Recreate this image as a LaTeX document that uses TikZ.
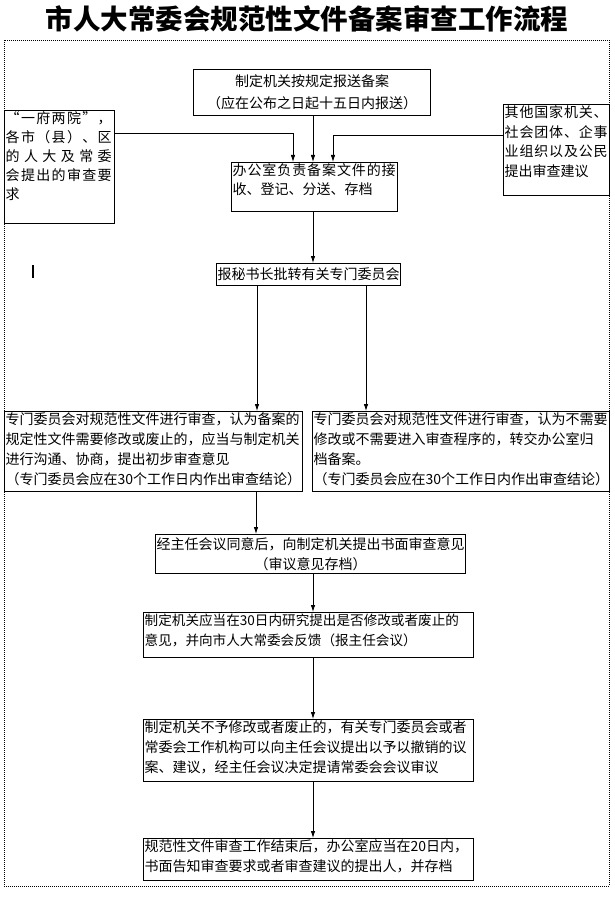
\documentclass[tikz,border=0pt]{standalone}
\usepackage{fontspec}
\setmainfont{Noto Sans CJK SC}
\usetikzlibrary{arrows.meta}
\newcommand{\spr}[2]{\hbox to #1{#2}}
\begin{document}
\begin{tikzpicture}[x=1pt,y=-1pt,
  box/.style={draw=black,line width=1pt,inner sep=0pt,anchor=north west},
  txt/.style={anchor=north west,inner sep=1.5pt,align=left,font=\fontsize{14}{20}\selectfont},
  ctxt/.style={align=center,inner sep=0pt,font=\fontsize{14}{20}\selectfont},
  arr/.style={line width=0.8pt,-{Latex[length=7pt,width=4.5pt]}},
  frame/.style={line width=0.8pt,dash pattern=on 0.8pt off 1.2pt}]
\useasboundingbox (0,0) rectangle (614,901);
\fill[white] (0,0) rectangle (614,901);
\node[font=\fontsize{27.5}{30}\selectfont\bfseries] (title) at (307,19) {市人大常委会规范性文件备案审查工作流程};
\draw[frame] (4,40) rectangle (609,886);
% boxes
\node[box,minimum width=237pt,minimum height=46pt] (tbox) at (193,69) {};
\node[box,minimum width=110pt,minimum height=113pt] (lbox) at (4,110) {};
\node[box,minimum width=106pt,minimum height=91pt] (rbox) at (503,104) {};
\node[box,minimum width=166pt,minimum height=49pt] (office) at (231,162) {};
\node[box,minimum width=184pt,minimum height=22pt] (baomi) at (216,263) {};
\node[box,minimum width=298pt,minimum height=80pt] (revL) at (4,411) {};
\node[box,minimum width=297pt,minimum height=80pt] (revR) at (312,411) {};
\node[box,minimum width=310pt,minimum height=39pt] (jing) at (155,534) {};
\node[box,minimum width=330pt,minimum height=45pt] (zhiding) at (143,612) {};
\node[box,minimum width=330pt,minimum height=62pt] (buyu) at (143,719) {};
\node[box,minimum width=330pt,minimum height=42pt] (guifan) at (143,838) {};
% texts
\node[ctxt,font=\fontsize{14}{22}\selectfont] (tT) at (tbox.center) {制定机关按规定报送备案\\（应在公布之日起十五日内报送）};
\node[txt,font=\fontsize{14}{19}\selectfont] (lT) at (lbox.north west) {%
\spr{106pt}{“\hfill 一\hfill 府\hfill 两\hfill 院\hfill ”\hfill ，}\\
\spr{106pt}{各\hfill 市\hfill （\hfill 县\hfill ）\hfill 、\hfill 区}\\
\spr{106pt}{的\hfill 人\hfill 大\hfill 及\hfill 常\hfill 委}\\
\spr{106pt}{会\hfill 提\hfill 出\hfill 的\hfill 审\hfill 查\hfill 要}\\
求};
\node[txt,font=\fontsize{14}{19.5}\selectfont] (rT) at (rbox.north west) {%
\spr{103pt}{其\hfill 他\hfill 国\hfill 家\hfill 机\hfill 关\hfill 、}\\
\spr{103pt}{社\hfill 会\hfill 团\hfill 体\hfill 、\hfill 企\hfill 事}\\
\spr{103pt}{业\hfill 组\hfill 织\hfill 以\hfill 及\hfill 公\hfill 民}\\
提出审查建议};
\node[txt,font=\fontsize{14}{19}\selectfont] (oT) at (office.north west) {%
\spr{163pt}{办\hfill 公\hfill 室\hfill 负\hfill 责\hfill 备\hfill 案\hfill 文\hfill 件\hfill 的\hfill 接}\\
收、登记、分送、存档};
\node[ctxt] (bT) at (baomi.center) {报秘书长批转有关专门委员会};
\node[txt] (rLT) at (revL.north west) {专门委员会对规范性文件进行审查，认为备案的\\规定性文件需要修改或废止的，应当与制定机关\\进行沟通、协商，提出初步审查意见\\（专门委员会应在30个工作日内作出审查结论）};
\node[txt] (rRT) at (revR.north west) {专门委员会对规范性文件进行审查，认为不需要\\修改或不需要进入审查程序的，转交办公室归\\档备案。\\（专门委员会应在30个工作日内作出审查结论）};
\node[ctxt] (jT) at (jing.center) {经主任会议同意后，向制定机关提出书面审查意见\\（审议意见存档）};
\node[txt,font=\fontsize{13.6}{20}\selectfont] (zT) at (zhiding.north west) {制定机关应当在30日内研究提出是否修改或者废止的\\意见，并向市人大常委会反馈（报主任会议）};
\node[txt] (byT) at (buyu.north west) {制定机关不予修改或者废止的，有关专门委员会或者\\常委会工作机构可以向主任会议提出以予以撤销的议\\案、建议，经主任会议决定提请常委会会议审议};
\node[txt] (gT) at (guifan.north west) {规范性文件审查工作结束后，办公室应当在20日内，\\书面告知审查要求或者审查建议的提出人，并存档};
% connectors
\coordinate (m) at (313,0);
\coordinate (jL) at (293,133);
\coordinate (jR) at (333,135);
\coordinate (bL) at (257,0);
\coordinate (bR) at (366,0);
\coordinate (rL) at (256,0);
\draw[arr] (tbox.south -| m) -- (office.north -| m);
\draw[arr] (lbox.east |- jL) -- (jL) -- (office.north -| jL);
\draw[arr] (rbox.west |- jR) -- (jR) -- (office.north -| jR);
\draw[arr] (office.south -| m) -- (baomi.north -| m);
\draw[arr] (baomi.south -| bL) -- (revL.north -| bL);
\draw[arr] (baomi.south -| bR) -- (revR.north -| bR);
\draw[arr] (revL.south -| rL) -- (jing.north -| rL);
\draw[arr] (jing.south -| m) -- (zhiding.north -| m);
\draw[arr] (zhiding.south -| m) -- (buyu.north -| m);
\draw[arr] (buyu.south -| m) -- (guifan.north -| m);
\draw[line width=2pt] (33,265) -- (33,278);
\end{tikzpicture}
\end{document}
